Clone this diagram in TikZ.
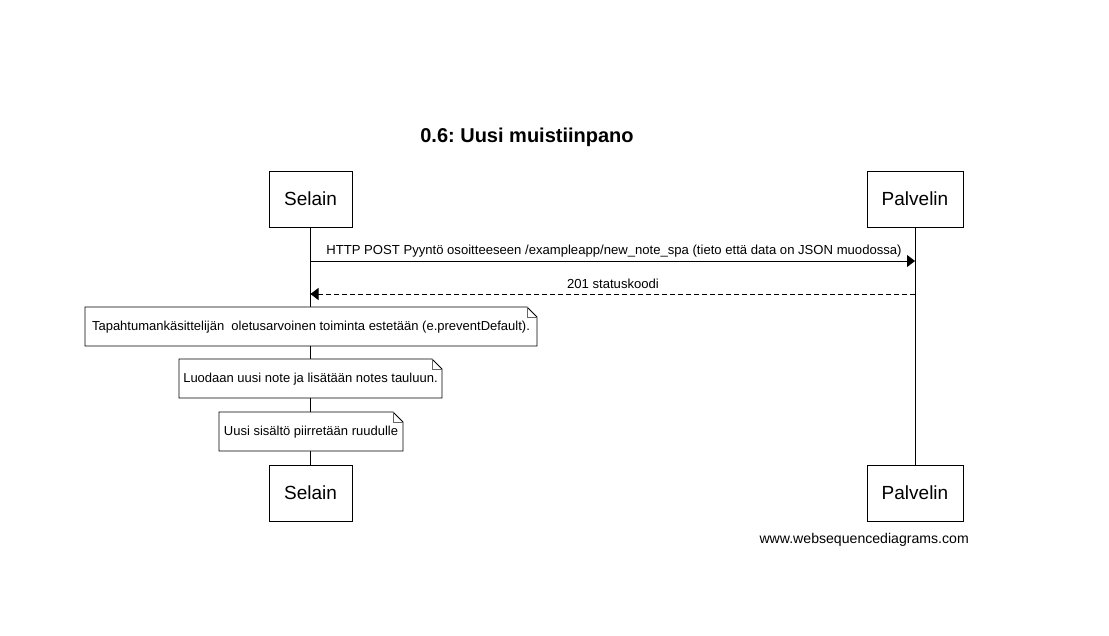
\documentclass[tikz,border=0pt]{standalone}
\usepackage{fontspec}
\setmainfont{Liberation Sans}
\usetikzlibrary{arrows.meta}
\frenchspacing
\tikzset{
  actor/.style={draw, fill=white, line width=0.8pt, inner sep=0pt, font=\fontsize{19}{22}\selectfont},
  notetext/.style={inner sep=0pt, font=\fontsize{13}{15}\selectfont},
  msg/.style={line width=0.8pt, -{Triangle[length=8pt,width=12pt]}},
  msglabel/.style={inner sep=0pt, font=\fontsize{13.1}{15}\selectfont},
  lifeline/.style={line width=0.8pt},
  notebox/.style={draw, fill=white, line width=0.8pt}
}
\begin{document}
\begin{tikzpicture}[x=1pt,y=-1pt]
\useasboundingbox[fill=white] (0,0) rectangle (1109,636);

\node[inner sep=0pt, font=\bfseries\fontsize{20}{24}\selectfont] (title) at (527,137) {0.6: Uusi muistiinpano};

\node[actor, minimum width=83pt, minimum height=56pt] (s1) at (310.5,199) {Selain};
\node[actor, minimum width=96pt, minimum height=56pt] (p1) at (915,199) {Palvelin};
\node[actor, minimum width=83pt, minimum height=56pt] (s2) at (310.5,493) {Selain};
\node[actor, minimum width=96pt, minimum height=56pt] (p2) at (915,493) {Palvelin};

\draw[lifeline] (s1.south) -- (s2.north);
\draw[lifeline] (p1.south) -- (p2.north);

\coordinate (m1a) at (s1.south |- 0,261);
\coordinate (m1b) at (p1.south |- 0,261);
\draw[msg] (m1a) -- (m1b);
\node[msglabel] (l1) at (614,251) {HTTP POST Pyyntö osoitteeseen /exampleapp/new\_note\_spa (tieto että data on JSON muodossa)};

\coordinate (m2a) at (p1.south |- 0,294);
\coordinate (m2b) at (s1.south |- 0,294);
\draw[msg, dash pattern=on 5pt off 3pt] (m2a) -- (m2b);
\node[msglabel] (l2) at (613,284) {201 statuskoodi};

% notes
\foreach \nm/\xa/\xb/\ya/\yb in {n1/85/537/307/346, n2/179/442/359/398, n3/219/403/412/451}{
  \draw[notebox] (\xa,\ya) -- (\xb-10,\ya) -- (\xb,\ya+10) -- (\xb,\yb) -- (\xa,\yb) -- cycle;
  \draw[line width=0.6pt, black!60] (\xb-10,\ya) -- (\xb-10,\ya+10) -- (\xb,\ya+10);
}
\node[notetext] (t1) at (311,327) {Tapahtumankäsittelijän\ \ oletusarvoinen toiminta estetään (e.preventDefault).};
\node[notetext] (t2) at (310.5,379) {Luodaan uusi note ja lisätään notes tauluun.};
\node[notetext] (t3) at (311,432) {Uusi sisältö piirretään ruudulle};

\node[inner sep=0pt, anchor=east, font=\fontsize{14.1}{16}\selectfont] (foot) at (969,540) {www.websequencediagrams.com};
\end{tikzpicture}
\end{document}
